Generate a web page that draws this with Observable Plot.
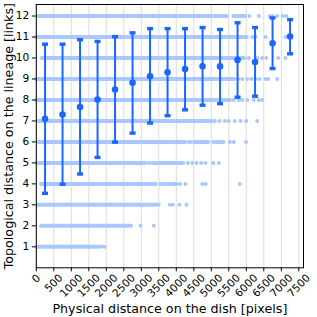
<!DOCTYPE html>
<html>
<head>
<meta charset="utf-8">
<script src="https://cdn.jsdelivr.net/npm/d3@7"></script>
<script src="https://cdn.jsdelivr.net/npm/@observablehq/plot@0.6"></script>
<style>
  html, body { margin: 0; padding: 0; background: white; }
</style>
</head>
<body>
<div id="chart"></div>
<script>
// ---- data ----
const xTicks = [0, 500, 1000, 1500, 2000, 2500, 3000, 3500, 4000, 4500, 5000, 5500, 6000, 6500, 7000, 7500];
const yTicks = [1, 2, 3, 4, 5, 6, 7, 8, 9, 10, 11, 12];

// binned summary (bin centers)
const barX    = [250, 750, 1250, 1750, 2250, 2750, 3250, 3750, 4250, 4750, 5250, 5750, 6250, 6750, 7250];
const barMean = [7.10, 7.31, 7.66, 8.02, 8.50, 8.82, 9.13, 9.32, 9.47, 9.61, 9.60, 9.91, 9.81, 10.70, 11.02];
const barLow  = [3.55, 3.98, 4.47, 5.26, 5.99, 6.42, 6.90, 7.25, 7.53, 7.75, 7.82, 8.13, 8.18, 9.50, 10.20];
const barHigh = [10.66, 10.66, 10.87, 10.79, 11.02, 11.20, 11.40, 11.40, 11.40, 11.45, 11.36, 11.68, 11.45, 11.91, 11.83];

// raw pairs: dense runs of points per topological distance [level, from, to]
const denseLevel = [1, 2, 3, 4, 4, 5, 5, 6, 6, 6, 7, 8, 8, 9, 10, 11, 12, 12, 12];
const denseFrom  = [20, 150, 45, 150, 3720, 25, 3377, 70, 4520, 5149, 70, 10, 5311, 6, 169, 6, 70, 5120, 5643];
const denseTo    = [1790, 2720, 3450, 3430, 4030, 3120, 4210, 4263, 4930, 5357, 5026, 5197, 5549, 5671, 5960, 6026, 5026, 5454, 5977];

// raw pairs: isolated points [level, distance]
const sparseLevel = [
  1, 1,
  2, 2,
  3, 3, 3, 3, 3,
  4, 4, 4, 4, 4, 4, 4,
  5, 5, 5, 5, 5, 5, 5, 5, 5,
  6, 6, 6, 6, 6, 6,
  7, 7, 7, 7, 7, 7, 7, 7,
  8, 8, 8, 8, 8, 8, 8,
  9, 9, 9, 9, 9, 9, 9, 9, 9,
  10, 10, 10, 10, 10, 10,
  11, 11, 11, 11,
  12, 12, 12, 12, 12, 12, 12
];
const sparseDist = [
  1863, 1949,
  2977, 3357,
  3500, 3814, 3900, 4091, 4291,
  3549, 3643, 4100, 4263, 4740, 4834, 5814,
  3214, 3311, 4329, 4454, 4577, 4711, 4834, 5054, 5214,
  4357, 4406, 5054, 5529, 5643, 5990,
  5100, 5234, 5386, 5500, 5671, 5834, 5997, 6311,
  5643, 5786, 5883, 6026, 6214, 6357, 6454,
  5769, 5883, 6026, 6149, 6263, 6377, 6549, 6626, 6883,
  6071, 6311, 6454, 6569, 6911, 7120,
  6169, 6263, 6549, 7120,
  6091, 6357, 6663, 6757, 6883, 7043, 7140
];

// ---- tables ----
const bars = barX.map((x, i) => ({x, mean: barMean[i], low: barLow[i], high: barHigh[i]}));
const dense = denseLevel.map((y, i) => ({y, x1: denseFrom[i], x2: denseTo[i]}));
const sparse = sparseLevel.map((y, i) => ({y, x: sparseDist[i]}));

const blue = "#1a66ff";
const light = "#a8c8ff";
const tickFont = 10.6;

// rectangular cap symbol for error bars
const capSymbol = {
  draw(context) {
    context.rect(-3, -1.7, 6, 3.4);
  }
};

// rotated x tick labels, centred under their tick (matplotlib style)
function xTickLabels(len, dy) {
  return Plot.text(xTicks.filter(d => String(d).length === len), {
    x: d => d, text: d => String(d), frameAnchor: "bottom", dy,
    rotate: -45, textAnchor: "middle", lineAnchor: "middle", fontSize: tickFont, fill: "black"
  });
}

const chart = Plot.plot({
  width: 317,
  height: 317,
  marginLeft: 35.8,
  marginRight: 14,
  marginTop: 4,
  marginBottom: 49.7,
  style: {fontFamily: "DejaVu Sans", fontSize: tickFont + "px", color: "black", background: "white"},
  x: {domain: [0, 7634]},
  y: {domain: [0, 12.55]},
  marks: [
    Plot.gridX(xTicks, {stroke: "#dcdcdc", strokeOpacity: 1, strokeWidth: 1}),
    Plot.ruleY(dense, {y: "y", x1: "x1", x2: "x2", stroke: light, strokeWidth: 4, strokeLinecap: "round"}),
    Plot.dot(sparse, {x: "x", y: "y", r: 2, fill: light}),
    Plot.ruleX(bars, {x: "x", y1: "low", y2: "high", stroke: blue, strokeWidth: 2}),
    Plot.dot(bars, {x: "x", y: "low", symbol: capSymbol, fill: blue}),
    Plot.dot(bars, {x: "x", y: "high", symbol: capSymbol, fill: blue}),
    Plot.dot(bars, {x: "x", y: "mean", r: 3.3, fill: blue}),
    Plot.axisX(xTicks, {
      tickSize: 4, stroke: "black", tickFormat: () => "",
      label: "Physical distance on the dish [pixels]", labelAnchor: "center", labelArrow: "none",
      labelOffset: 45
    }),
    xTickLabels(1, 10.8),
    xTickLabels(3, 15.5),
    xTickLabels(4, 17.9),
    Plot.axisY(yTicks, {
      tickSize: 4, tickPadding: 3, stroke: "black", tickFormat: d3.format("d"),
      label: "Topological distance on the lineage [links]", labelAnchor: "center", labelArrow: "none",
      labelOffset: 32, fontSize: tickFont
    }),
    Plot.frame({stroke: "black", strokeWidth: 1})
  ]
});

// larger axis-title font
chart.querySelectorAll("g[aria-label='x-axis label'] text, g[aria-label='y-axis label'] text").forEach(t => t.setAttribute("font-size", "12.7px"));
document.getElementById("chart").appendChild(chart);
</script>
</body>
</html>
